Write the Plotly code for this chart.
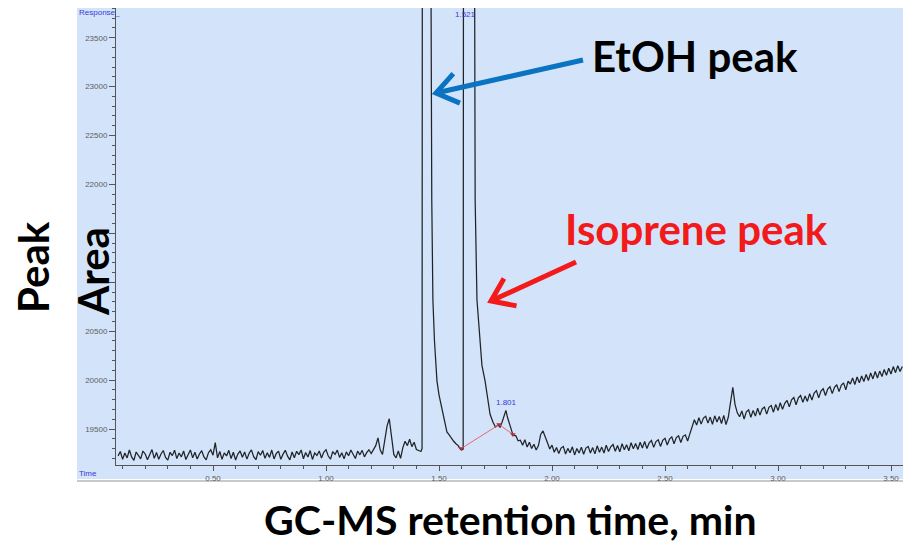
import plotly.graph_objects as go
import math

# ---------------- data ----------------
# baseline segment A: t = 0.08 .. 1.41 min, step 0.01
seg_a_start = 0.08
seg_a_step = 0.01
seg_a_resp = [
    19225, 19270, 19190, 19255, 19205, 19285, 19215, 19180, 19265, 19230,
    19195, 19275, 19245, 19185, 19240, 19290, 19200, 19260, 19190, 19245,
    19280, 19210, 19182, 19262, 19228, 19284, 19198, 19255, 19215, 19275,
    19188, 19240, 19286, 19205, 19262, 19193, 19245, 19278, 19214, 19184,
    19258, 19288, 19232, 19360, 19205, 19270, 19190, 19256, 19225, 19282,
    19198, 19262, 19183, 19244, 19276, 19212, 19266, 19192, 19252, 19287,
    19218, 19186, 19268, 19232, 19280, 19200, 19258, 19210, 19285, 19194,
    19250, 19274, 19190, 19243, 19282, 19222, 19185, 19265, 19206, 19272,
    19238, 19286, 19196, 19260, 19214, 19280, 19189, 19255, 19230, 19276,
    19203, 19262, 19289, 19224, 19192, 19270, 19240, 19284, 19210, 19258,
    19195, 19266, 19226, 19285, 19245, 19198, 19274, 19236, 19282, 19215,
    19258, 19288, 19250, 19290, 19330, 19410, 19285, 19240, 19370, 19530,
    19605, 19420, 19240, 19205, 19275, 19200, 19310, 19375, 19330, 19395,
    19320, 19365, 19290, 19280,
]

# peak segment B (EtOH + isoprene peaks, 1.801 shoulder)
seg_b_time = [
    1.420, 1.425, 1.430, 1.445, 1.458, 1.465, 1.468, 1.473, 1.480, 1.491,
    1.500, 1.513, 1.520, 1.535, 1.545, 1.555, 1.565, 1.575, 1.585, 1.593,
    1.600, 1.607, 1.612, 1.632, 1.650, 1.655, 1.660, 1.668, 1.680, 1.690,
    1.704, 1.715, 1.726, 1.739, 1.750, 1.761, 1.770, 1.779, 1.790, 1.796,
    1.803, 1.810, 1.820, 1.827, 1.840, 1.850,
]
seg_b_resp = [
    19270, 19300, 40000, 48000, 30000, 23800, 21840, 20818, 20400, 19990,
    19850, 19700, 19620, 19470, 19440, 19400, 19375, 19350, 19330, 19300,
    19285, 19295, 40000, 48000, 30000, 23800, 21840, 20818, 20400, 20150,
    19990, 19800, 19650, 19570, 19520, 19540, 19520, 19570, 19640, 19690,
    19620, 19560, 19480, 19440, 19430, 19380,
]

# baseline segment C: t = 1.86 .. 3.55 min, step 0.01
seg_c_start = 1.86
seg_c_step = 0.01
seg_c_resp = [
    19385, 19335, 19390, 19315, 19365, 19300, 19345, 19285, 19330, 19445,
    19480, 19410, 19360, 19295, 19335, 19262, 19310, 19250, 19305, 19322,
    19245, 19302, 19258, 19318, 19235, 19300, 19255, 19315, 19242, 19305,
    19322, 19255, 19310, 19246, 19328, 19262, 19315, 19255, 19335, 19270,
    19318, 19342, 19272, 19332, 19266, 19350, 19288, 19340, 19278, 19360,
    19298, 19352, 19290, 19365, 19305, 19372, 19300, 19358, 19382, 19312,
    19372, 19390, 19322, 19385, 19405, 19336, 19398, 19420, 19350, 19412,
    19430, 19362, 19425, 19440, 19378, 19450, 19530, 19595, 19540, 19615,
    19550, 19612, 19630, 19560, 19622, 19548, 19635, 19572, 19628, 19556,
    19640, 19545, 19620, 19790, 19925, 19750, 19665, 19625, 19685, 19602,
    19675, 19695, 19620, 19690, 19632, 19712, 19642, 19705, 19725, 19652,
    19722, 19740, 19672, 19752, 19688, 19768, 19702, 19762, 19792, 19726,
    19798, 19822, 19748, 19818, 19842, 19772, 19838, 19782, 19862, 19796,
    19868, 19892, 19818, 19888, 19912, 19842, 19908, 19932, 19862, 19926,
    19952, 19882, 19946, 19972, 19900, 19988, 19960, 20022, 19955, 20032,
    19972, 20042, 19985, 20058, 19996, 20072, 20012, 20088, 20022, 20092,
    20036, 20108, 20050, 20122, 20062, 20138, 20076, 20148, 20088, 20140,
]

# integration baseline (red) drawn by the instrument software
integ_time = [1.598, 1.766, 1.827]
integ_resp = [19300, 19545, 19445]

# axis ticks
y_tick_vals = [19500, 20000, 20500, 21000, 21500, 22000, 22500, 23000, 23500]
y_tick_text = ["19500", "20000", "20500", "", "", "22000", "22500", "23000", "23500"]
x_tick_vals = [0.5, 1.0, 1.5, 2.0, 2.5, 3.0, 3.5]
x_tick_text = ["0.50", "1.00", "1.50", "2.00", "2.50", "3.00", "3.50"]

peak_labels = [("1.521", 1.618), ("1.801", 1.800)]

# ---------------- build series ----------------
time = [round(seg_a_start + seg_a_step * i, 3) for i in range(len(seg_a_resp))]
resp = list(seg_a_resp)
time += seg_b_time
resp += seg_b_resp
time += [round(seg_c_start + seg_c_step * i, 3) for i in range(len(seg_c_resp))]
resp += seg_c_resp

W, H = 903, 548
ML, MR, MT, MB = 116, 0, 8, 83
PW, PH = W - ML - MR, H - MT - MB
BG = "#d3e3f9"


def px(x):
    return (x - ML) / PW


def py(y):
    return (H - MB - y) / PH


fig = go.Figure()
fig.add_trace(go.Scatter(x=time, y=resp, mode="lines",
                         line=dict(color="#202428", width=1.25), hoverinfo="skip",
                         showlegend=False))
fig.add_trace(go.Scatter(x=integ_time, y=integ_resp, mode="lines+markers",
                         line=dict(color="#e46a6a", width=1),
                         marker=dict(symbol="triangle-down", size=5, color="#b0303a"),
                         hoverinfo="skip", showlegend=False))

shapes = []
# blue screenshot frame
shapes.append(dict(type="rect", xref="paper", yref="paper",
                   x0=px(77), x1=1.0, y0=py(479), y1=1.0,
                   fillcolor=BG, line=dict(width=0), layer="below"))
shapes.append(dict(type="line", xref="paper", yref="paper",
                   x0=px(77), x1=1.0, y0=py(481), y1=py(481),
                   line=dict(color="#c9c9c9", width=2), layer="below"))


def arrow(tip, tail, color, arm=26, spread=0.62):
    tx, ty = tip
    sx, sy = tail
    dx, dy = sx - tx, sy - ty
    L = math.hypot(dx, dy)
    ux, uy = dx / L, dy / L
    pts = []
    for s in (spread, -spread):
        c, si = math.cos(s), math.sin(s)
        ax = tx + arm * (ux * c - uy * si)
        ay = ty + arm * (ux * si + uy * c)
        pts.append((ax, ay))
    shaft = f"M {px(sx)} {py(sy)} L {px(tx)} {py(ty)}"
    head = (f"M {px(pts[0][0])} {py(pts[0][1])} L {px(tx)} {py(ty)} "
            f"L {px(pts[1][0])} {py(pts[1][1])}")
    return [dict(type="path", xref="paper", yref="paper", path=shaft,
                 line=dict(color=color, width=5), layer="above"),
            dict(type="path", xref="paper", yref="paper", path=head,
                 line=dict(color=color, width=5), layer="above")]


shapes += arrow((436, 93), (583, 60), "#0a73c2")
shapes += arrow((491, 301), (576, 262), "#f21a1a")

annotations = []
big = dict(family="Lato, 'Open Sans', sans-serif", size=42, color="black", weight="bold")
C = dict(xanchor="center", yanchor="middle", showarrow=False, xref="paper", yref="paper")
annotations.append(dict(C, text="EtOH peak", x=px(695), y=py(56), font=big))
annotations.append(dict(C, text="Isoprene peak", x=px(696), y=py(229),
                        font=dict(big, color="#f21a1a")))
annotations.append(dict(C, text="GC-MS retention time, min", x=px(510), y=py(519),
                        font=dict(big, size=41)))
annotations.append(dict(C, text="Peak", textangle=-90, x=px(33), y=py(267), font=big))
annotations.append(dict(C, text="Area", textangle=-90, x=px(93), y=py(272), font=big))
small_blue = dict(family="Liberation Sans, Arial, sans-serif", size=8, color="#3a3ad6")
annotations.append(dict(text="Response_", xref="paper", yref="paper",
                        x=px(77), y=py(13), xanchor="left", yanchor="middle",
                        showarrow=False, font=small_blue))
annotations.append(dict(text="Time", xref="paper", yref="paper",
                        x=px(77), y=py(474), xanchor="left", yanchor="middle",
                        showarrow=False, font=small_blue))
annotations.append(dict(text=peak_labels[0][0], x=peak_labels[0][1], xref="x",
                        yref="paper", y=py(14), xanchor="center", yanchor="middle",
                        showarrow=False, font=small_blue))
annotations.append(dict(text=peak_labels[1][0], x=peak_labels[1][1], xref="x",
                        y=19772, yref="y", xanchor="center", yanchor="middle",
                        showarrow=False, font=small_blue))

tickfont = dict(family="Liberation Sans, Arial, sans-serif", size=8, color="#606060")

fig.update_layout(
    width=W, height=H,
    margin=dict(l=ML, r=MR, t=MT, b=MB, pad=0),
    paper_bgcolor="white", plot_bgcolor=BG,
    shapes=shapes, annotations=annotations,
    xaxis=dict(range=[0.5 + (ML - 213) / 226, 0.5 + (W - 213) / 226],
               tickvals=x_tick_vals, ticktext=x_tick_text,
               ticks="outside", ticklen=5, tickcolor="#555", tickwidth=1,
               minor=dict(dtick=0.1, tick0=0, ticks="outside", ticklen=3,
                          tickcolor="#555"),
               showline=True, linecolor="#555", linewidth=1,
               showgrid=False, zeroline=False, tickfont=tickfont),
    yaxis=dict(range=[19500 - 36 * 10.22, 23500 + 29.7 * 10.22],
               tickvals=y_tick_vals, ticktext=y_tick_text,
               ticks="outside", ticklen=6, tickcolor="#555", tickwidth=1,
               minor=dict(dtick=100, tick0=0, ticks="outside", ticklen=3,
                          tickcolor="#555"),
               showline=True, linecolor="#555", linewidth=1,
               showgrid=False, zeroline=False, tickfont=tickfont),
)

fig.write_html("out.html", config={"displayModeBar": False},
               post_script="document.body.style.margin='0';document.body.style.overflow='hidden';")
